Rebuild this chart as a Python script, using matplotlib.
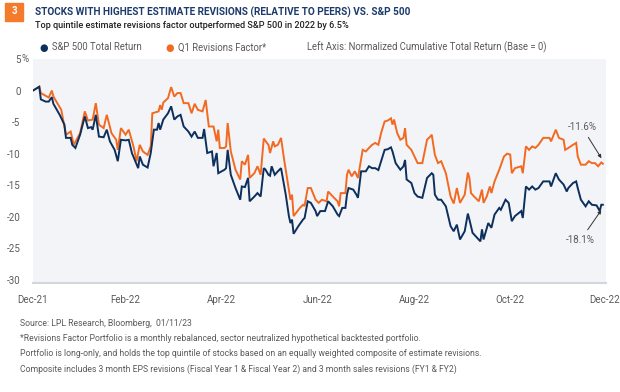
import matplotlib
matplotlib.use("Agg")
import matplotlib.pyplot as plt
from matplotlib import font_manager
from matplotlib.patches import Rectangle
import numpy as np
import pandas as pd

# --- DATA (calendar days after 2021-12-31, cumulative total return in %) ---
spx_days = [0, 4, 5, 8, 10, 12, 13, 17, 20, 21, 24, 25, 27, 30, 33, 35, 37, 38, 40, 42,
            45, 47, 49, 52, 54, 56, 59, 61, 63, 67, 68, 70, 73, 75, 77, 79, 80, 81, 83, 86,
            88, 90, 92, 94, 96, 99, 101, 103, 105, 108, 109, 111, 114, 115, 117, 118, 122, 123, 124, 126,
            129, 132, 133, 135, 137, 138, 141, 143, 145, 147, 148, 150, 151, 152, 154, 156, 158, 161, 163, 164,
            165, 166, 169, 172, 173, 175, 177, 180, 181, 183, 186, 188, 191, 194, 195, 197, 199, 200, 201, 204,
            206, 207, 209, 212, 214, 216, 218, 220, 222, 224, 226, 228, 229, 231, 234, 236, 237, 238, 241, 243,
            245, 248, 251, 254, 255, 256, 258, 260, 263, 266, 268, 270, 272, 275, 277, 278, 280, 282, 285, 286,
            287, 290, 292, 294, 297, 298, 301, 303, 305, 307, 311, 312, 314, 316, 318, 320, 322, 325, 329, 330,
            333, 335, 338, 340, 341, 344, 346, 347, 349, 352, 354, 356, 359, 361, 362, 363]
spx_ret = [0.0, 0.6, -1.4, -1.75, -1.75, -1.05, -2.1, -3.85, -5.4, -7.5, -7.5, -8.6, -9.1, -7.0, -4.1, -5.95, -5.8, -6.2, -3.85, -7.3,
           -7.4, -6.2, -8.05, -9.4, -11.2, -7.8, -7.9, -7.8, -9.9, -12.3, -10.45, -11.75, -12.2, -9.9, -6.2, -6.2, -5.15, -6.2, -4.6, -3.6,
           -2.5, -4.6, -4.1, -3.85, -5.7, -6.5, -7.3, -6.5, -7.5, -7.5, -6.1, -9.9, -9.65, -12.0, -9.9, -13.1, -12.55, -12.3, -9.4, -13.35,
           -15.45, -17.3, -15.2, -15.3, -13.85, -17.55, -16.8, -16.25, -16.8, -12.3, -12.5, -13.35, -13.5, -12.0, -13.35, -12.8, -12.3, -16.5, -19.9, -21.0,
           -20.45, -22.7, -21.5, -20.45, -20.2, -17.55, -17.8, -19.1, -19.9, -19.1, -19.1, -17.55, -18.35, -19.65, -19.9, -18.6, -18.6, -16.5, -15.45, -15.7,
           -16.5, -17.0, -12.8, -12.8, -12.0, -12.3, -12.3, -12.6, -11.0, -9.4, -9.3, -9.0, -9.65, -11.5, -12.55, -12.0, -11.0, -14.1, -14.65, -16.25,
           -16.8, -17.0, -13.85, -13.1, -13.35, -16.5, -17.3, -17.3, -18.35, -21.5, -22.3, -21.25, -23.6, -22.3, -19.5, -20.45, -22.55, -23.1, -23.9, -22.0,
           -23.6, -21.0, -21.75, -19.65, -18.6, -18.9, -17.3, -17.8, -20.7, -19.9, -19.1, -20.2, -15.2, -15.7, -15.2, -15.7, -15.45, -14.4, -14.4, -15.2,
           -13.1, -14.1, -14.9, -16.0, -15.45, -14.65, -14.4, -15.45, -17.3, -18.35, -17.55, -18.1, -18.2, -19.1, -18.1, -18.1]

q1_days = [0, 4, 5, 10, 12, 13, 18, 21, 24, 26, 30, 33, 35, 38, 40, 42, 45, 47, 50, 53,
           54, 56, 59, 61, 64, 66, 68, 70, 73, 75, 76, 80, 81, 82, 83, 86, 88, 90, 92, 94,
           96, 99, 101, 103, 105, 108, 110, 112, 115, 117, 118, 119, 122, 123, 124, 126, 129, 132, 133, 135,
           137, 138, 141, 143, 145, 147, 149, 150, 151, 153, 154, 156, 158, 160, 163, 164, 165, 166, 170, 172,
           173, 175, 177, 180, 182, 184, 187, 188, 191, 194, 195, 196, 199, 200, 201, 203, 205, 207, 210, 212,
           214, 216, 218, 220, 222, 224, 226, 228, 229, 230, 232, 234, 236, 237, 238, 241, 243, 245, 248, 251,
           253, 254, 256, 258, 260, 263, 266, 268, 270, 272, 275, 277, 278, 279, 281, 284, 286, 287, 289, 291,
           292, 294, 297, 300, 302, 304, 305, 307, 311, 312, 314, 316, 318, 320, 322, 325, 329, 330, 333, 335,
           338, 339, 341, 344, 346, 347, 349, 352, 354, 356, 358, 360, 362, 363]
q1_ret = [0.0, 0.6, -0.4, -1.1, 0.0, -0.95, -3.05, -7.0, -6.5, -8.6, -6.75, -3.3, -4.75, -4.6, -2.0, -5.4, -5.95, -3.85, -6.75, -7.8,
          -9.4, -5.95, -7.0, -6.2, -8.85, -11.2, -8.6, -9.65, -10.2, -8.85, -3.6, -3.3, -2.3, -3.05, -1.9, -1.2, 0.55, -0.95, -0.4, -0.4,
          -2.0, -2.0, -3.6, -2.1, -3.05, -3.3, -1.5, -5.7, -5.7, -8.05, -6.2, -9.1, -9.1, -8.85, -5.15, -9.65, -12.55, -14.1, -11.2, -11.75,
          -10.2, -13.85, -13.1, -12.0, -13.35, -7.6, -8.3, -8.6, -9.9, -8.05, -8.85, -8.6, -7.5, -11.0, -15.7, -17.3, -16.5, -19.9, -18.6, -18.1,
          -18.3, -15.45, -15.45, -17.3, -17.8, -17.3, -17.55, -16.0, -16.8, -17.55, -18.35, -16.25, -16.25, -13.35, -12.55, -13.6, -12.8, -13.85, -9.4, -9.65,
          -9.1, -8.6, -8.3, -8.6, -6.5, -4.9, -4.75, -4.4, -5.4, -4.6, -6.75, -7.8, -7.5, -5.95, -8.6, -9.4, -10.45, -11.5, -11.5, -7.8,
          -7.3, -7.0, -10.2, -11.5, -11.2, -13.1, -16.8, -17.9, -15.45, -17.8, -16.5, -13.0, -13.85, -16.25, -16.8, -17.55, -15.7, -17.8, -16.8, -15.2,
          -16.25, -14.4, -12.55, -10.45, -10.0, -10.15, -13.1, -12.3, -12.0, -13.1, -8.85, -9.4, -8.85, -9.1, -8.6, -7.5, -7.5, -8.05, -6.2, -7.5,
          -7.8, -9.4, -9.1, -8.6, -8.3, -10.45, -11.75, -11.75, -11.2, -11.5, -11.5, -12.0, -11.4, -11.6]

y_ticks = [5, 0, -5, -10, -15, -20, -25, -30]
x_tick_dates = ["2021-12-31", "2022-02-28", "2022-04-30", "2022-06-30", "2022-08-31", "2022-10-31", "2022-12-30"]
x_tick_labels = ["Dec-21", "Feb-22", "Apr-22", "Jun-22", "Aug-22", "Oct-22", "Dec-22"]

title = "STOCKS WITH HIGHEST ESTIMATE REVISIONS (RELATIVE TO PEERS) VS. S&P 500"
subtitle = "Top quintile estimate revisions factor outperformed S&P 500 in 2022 by 6.5%"
footnotes = [
    "Source: LPL Research, Bloomberg,  01/11/23",
    "*Revisions Factor Portfolio is a monthly rebalanced, sector neutralized hypothetical backtested portfolio.",
    "Portfolio is long-only, and holds the top quintile of stocks based on an equally weighted composite of estimate revisions.",
    "Composite includes 3 month EPS revisions (Fiscal Year 1 & Fiscal Year 2) and 3 month sales revisions (FY1 & FY2)",
]

# --- STYLE ---
NAVY = "#0d2f5c"
ORANGE = "#f26a21"
GREY = "#5a5a5a"
BG = "#f2f4f7"

names = {f.name for f in font_manager.fontManager.ttflist}
MAIN = "Roboto" if "Roboto" in names else "DejaVu Sans"

W, H = 620, 392
fig = plt.figure(figsize=(W / 100, H / 100), dpi=100)


def fx(x):
    return x / W


def fy(y):
    return 1 - y / H


ax = fig.add_axes([fx(33), fy(283), fx(606 - 33), (283 - 59) / H])
ax.set_facecolor(BG)

base = pd.Timestamp("2021-12-31")
spx_dates = base + pd.to_timedelta(spx_days, unit="D")
q1_dates = base + pd.to_timedelta(q1_days, unit="D")

ax.plot(q1_dates, q1_ret, color=ORANGE, lw=1.4, solid_joinstyle="miter")
ax.plot(spx_dates, spx_ret, color=NAVY, lw=1.4, solid_joinstyle="miter")

ax.set_xlim(pd.Timestamp("2021-12-31"), pd.Timestamp("2022-12-31"))
ax.set_ylim(-30.5, 5)

ax.set_yticks(y_ticks)
ax.set_yticklabels([str(t) for t in y_ticks], fontsize=7, color=GREY, family=MAIN)
ax.set_xticks(pd.to_datetime(x_tick_dates))
ax.set_xticklabels(x_tick_labels, fontsize=7, color=GREY, family=MAIN)
ax.tick_params(axis="both", length=0)
ax.tick_params(axis="y", pad=9)
ax.tick_params(axis="x", pad=8.5)
for s in ["top", "right", "left"]:
    ax.spines[s].set_visible(False)
ax.spines["bottom"].set_color("#d3d7dd")
ax.spines["bottom"].set_linewidth(1.5)
fig.text(fx(22), fy(59.5), "%", fontsize=7, color=GREY,
         family=MAIN, va="center", ha="left")

# end-value annotations
arrow = dict(arrowstyle="-|>", color="#333333", lw=0.7, mutation_scale=5)
ax.annotate("-11.6%", xy=(q1_dates[-1], q1_ret[-1] + 0.5), xytext=(-15, 24),
            textcoords="offset points", ha="center", va="center", fontsize=7,
            color=GREY, family=MAIN, arrowprops=arrow)
ax.annotate("-18.1%", xy=(spx_dates[-1], spx_ret[-1] - 0.5), xytext=(-16, -23),
            textcoords="offset points", ha="center", va="center", fontsize=7,
            color=GREY, family=MAIN, arrowprops=arrow)

# header
fig.patches.append(Rectangle((fx(5), fy(21)), fx(18), 18 / H, transform=fig.transFigure,
                             color="#f47b2c", zorder=3))
fig.text(fx(14), fy(11.5), "3", color="white", fontsize=7, weight="bold",
         ha="center", va="center", family=MAIN)
fig.text(fx(35), fy(12), title, color="#1c3a6b", fontsize=7.2, weight="bold",
         ha="left", va="center", family=MAIN)
fig.text(fx(35), fy(25), subtitle, color="#222222", fontsize=6.6, weight="medium",
         ha="left", va="center", family=MAIN)

# legend row
fig.text(fx(44), fy(47.5), "\u25cf", color=NAVY, fontsize=7, ha="center", va="center")
fig.text(fx(52), fy(47.5), "S&P 500 Total Return", color=GREY, fontsize=6.85,
         ha="left", va="center", family=MAIN)
fig.text(fx(170), fy(47.5), "\u25cf", color=ORANGE, fontsize=7, ha="center", va="center")
fig.text(fx(178), fy(47.5), "Q1 Revisions Factor*", color=GREY, fontsize=6.85,
         ha="left", va="center", family=MAIN)
fig.text(fx(307), fy(47.5), "Left Axis: Normalized Cumulative Total Return (Base = 0)",
         color=GREY, fontsize=6.85, ha="left", va="center", family=MAIN)

# footnotes
for i, line in enumerate(footnotes):
    fig.text(fx(20), fy(323 + i * 15.3), line, color=GREY, fontsize=6.2,
             ha="left", va="center", family=MAIN)

fig.savefig("out.png", dpi=100)
